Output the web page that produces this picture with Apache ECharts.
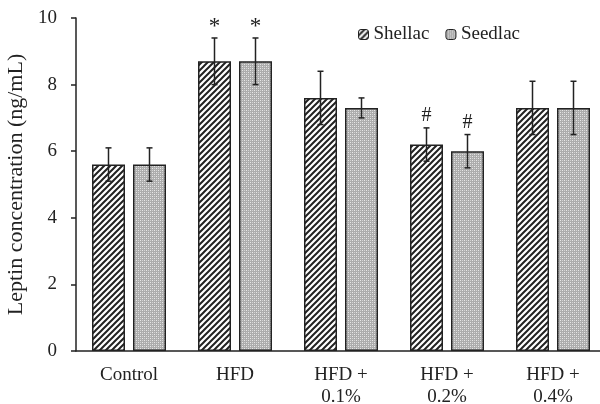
<!DOCTYPE html>
<html>
<head>
<meta charset="utf-8">
<script src="https://cdn.jsdelivr.net/npm/echarts@6/dist/echarts.min.js"></script>
<style>html,body{margin:0;padding:0;background:#fff}#main{width:600px;height:404px}</style>
</head>
<body>
<div id="main"></div>
<script>
var categories = ['Control', 'HFD', 'HFD +\n0.1%', 'HFD +\n0.2%', 'HFD +\n0.4%'];
var shellac = [5.6, 8.7, 7.6, 6.2, 7.3];
var seedlac = [5.6, 8.7, 7.3, 6.0, 7.3];
var shellacErr = [0.5, 0.7, 0.8, 0.5, 0.8];
var seedlacErr = [0.5, 0.7, 0.3, 0.5, 0.8];
var shellacSig = ['', '*', '', '#', ''];
var seedlacSig = ['', '*', '', '#', ''];
var yTicks = [0, 2, 4, 6, 8, 10];

var FONT = 'Liberation Serif';
var BAR_W = 33, BAR_GAP = 8;

function hatchPattern() {
  var c = document.createElement('canvas');
  c.width = 6; c.height = 6;
  var g = c.getContext('2d');
  g.fillStyle = '#ffffff'; g.fillRect(0, 0, 6, 6);
  g.strokeStyle = '#222222'; g.lineWidth = 2;
  g.beginPath();
  g.moveTo(-1, 7); g.lineTo(7, -1);
  g.moveTo(-4, 4); g.lineTo(4, -4);
  g.moveTo(2, 10); g.lineTo(10, 2);
  g.stroke();
  return c;
}
function dotPattern() {
  var c = document.createElement('canvas');
  c.width = 4; c.height = 4;
  var g = c.getContext('2d');
  g.fillStyle = '#acacac'; g.fillRect(0, 0, 4, 4);
  g.fillStyle = '#e8e8e8';
  g.fillRect(0, 0, 1, 1); g.fillRect(2, 2, 1, 1);
  g.fillStyle = '#d2d2d2';
  g.fillRect(2, 0, 1, 1); g.fillRect(0, 2, 1, 1);
  return c;
}

function errSeries(vals, errs, sigs, side) {
  var data = vals.map(function (v, i) { return [i, v, errs[i], sigs[i]]; });
  return {
    type: 'custom',
    silent: true,
    z: 10,
    data: data,
    renderItem: function (params, api) {
      var i = api.value(0), v = api.value(1), e = api.value(2);
      var sig = data[params.dataIndex][3];
      var off = side * (BAR_W + BAR_GAP) / 2;
      var top = api.coord([i, v + e]);
      var bot = api.coord([i, v - e]);
      var x = top[0] + off;
      var cap = 3;
      var ls = { stroke: '#222', lineWidth: 1.5 };
      var children = [
        { type: 'line', shape: { x1: x, y1: top[1], x2: x, y2: bot[1] }, style: ls },
        { type: 'line', shape: { x1: x - cap, y1: top[1], x2: x + cap, y2: top[1] }, style: ls },
        { type: 'line', shape: { x1: x - cap, y1: bot[1], x2: x + cap, y2: bot[1] }, style: ls }
      ];
      if (sig) {
        children.push({
          type: 'text',
          style: {
            text: sig, x: x, y: top[1] + (sig === '*' ? 0 : -2),
            align: 'center', verticalAlign: 'bottom',
            font: (sig === '*' ? '23px ' : '20px ') + FONT, fill: '#222'
          }
        });
      }
      return { type: 'group', children: children };
    }
  };
}

var chart = echarts.init(document.getElementById('main'), null, { renderer: 'canvas' });
chart.setOption({
  animation: false,
  backgroundColor: '#fff',
  grid: { left: 76, top: 18, width: 530, height: 333, containLabel: false, outerBoundsMode: 'none' },
  legend: {
    left: 353, top: 20,
    itemWidth: 10, itemHeight: 10, itemGap: 16,
    textStyle: { fontFamily: FONT, fontSize: 19, color: '#222' },
    data: [
      { name: 'Shellac', itemStyle: { borderColor: '#222', borderWidth: 1 } },
      { name: 'Seedlac', itemStyle: { borderColor: '#222', borderWidth: 1 } }
    ]
  },
  xAxis: {
    type: 'category',
    data: categories,
    axisLine: { lineStyle: { color: '#222', width: 1.5 } },
    axisTick: { show: false },
    axisLabel: { fontFamily: FONT, fontSize: 19, color: '#222', margin: 13, lineHeight: 22, interval: 0 }
  },
  yAxis: {
    type: 'value',
    min: yTicks[0], max: yTicks[yTicks.length - 1], interval: 2,
    name: 'Leptin concentration (ng/mL)',
    nameLocation: 'middle', nameRotate: 90, nameGap: 44,
    nameTextStyle: { fontFamily: FONT, fontSize: 22, color: '#222' },
    axisLine: { show: true, lineStyle: { color: '#222', width: 1.5 } },
    axisTick: { show: true, length: 5, lineStyle: { color: '#222', width: 1.5 } },
    splitLine: { show: false },
    axisLabel: { fontFamily: FONT, fontSize: 19, color: '#222', margin: 19 }
  },
  series: [
    {
      name: 'Shellac', type: 'bar', data: shellac,
      barWidth: BAR_W, barGap: (BAR_GAP / BAR_W * 100) + '%',
      itemStyle: { color: { image: hatchPattern(), repeat: 'repeat' }, borderColor: '#222', borderWidth: 1.5 }
    },
    {
      name: 'Seedlac', type: 'bar', data: seedlac,
      barWidth: BAR_W,
      itemStyle: { color: { image: dotPattern(), repeat: 'repeat' }, borderColor: '#222', borderWidth: 1.5 }
    },
    errSeries(shellac, shellacErr, shellacSig, -1),
    errSeries(seedlac, seedlacErr, seedlacSig, 1)
  ]
});
</script>
</body>
</html>
